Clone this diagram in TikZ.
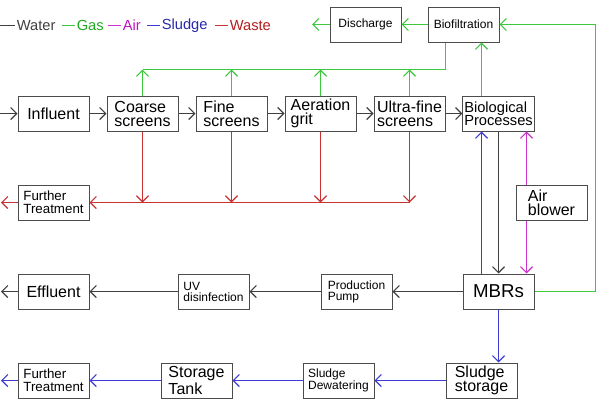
\documentclass[tikz,border=0pt]{standalone}
\usepackage{fontspec}
\setmainfont{Liberation Sans}
\usetikzlibrary{positioning,arrows.meta}

\definecolor{gascol}{RGB}{60,200,60}
\definecolor{gastext}{RGB}{30,170,30}
\definecolor{aircol}{RGB}{204,50,204}
\definecolor{airtext}{RGB}{190,20,190}
\definecolor{sludgecol}{RGB}{60,60,210}
\definecolor{sludgetext}{RGB}{40,40,170}
\definecolor{wastecol}{RGB}{200,50,50}
\definecolor{wastetext}{RGB}{180,30,30}

\tikzset{
  unit/.style={draw=black!70,line width=0.75pt,minimum width=53.25pt,minimum height=26.25pt,inner sep=1pt,align=left},
  big/.style={unit,font=\fontsize{12}{10.5}\selectfont},
  mid/.style={unit,font=\fontsize{10}{9.75}\selectfont},
  small/.style={unit,font=\fontsize{9}{8.25}\selectfont},
  legend/.style={right,inner sep=1pt,font=\fontsize{11}{11}\selectfont},
  flow/.style={line width=0.9pt,-{Straight Barb[length=4.5pt,width=9pt]}},
  water/.style={flow,draw=black!75},
  gas/.style={flow,draw=gascol},
  air/.style={flow,draw=aircol},
  sludge/.style={flow,draw=sludgecol},
  waste/.style={flow,draw=wastecol},
}

\begin{document}
\begin{tikzpicture}[x=0.75pt,y=-0.75pt,node distance=66.75pt,on grid]
  \useasboundingbox (0,0) rectangle (598,404);
  % legend
  \draw[line width=0.75pt,black!75] (0,25.5) -- (15,25.5) node[legend] (lwater) {Water};
  \draw[line width=0.75pt,gascol] (62,25.5) -- (75,25.5) node[legend,gastext] (lgas) {Gas};
  \draw[line width=0.75pt,aircol] (108,25.5) -- (121,25.5) node[legend,airtext] (lair) {Air};
  \draw[line width=0.75pt,sludgecol] (147,25.5) -- (160,25.5) node[legend,sludgetext] (lsludge) {Sludge};
  \draw[line width=0.75pt,wastecol] (215,25.5) -- (228,25.5) node[legend,wastetext] (lwaste) {Waste};

  % pretreatment line
  \node[big] (influent) at (53.5,113.5) {Influent};
  \node[big] (coarse)   [right=of influent] {Coarse\\screens};
  \node[big] (fine)     [right=of coarse]   {Fine\\screens};
  \node[big] (aeration) [right=of fine]     {Aeration\\grit};
  \node[big] (ultra)    [right=of aeration] {Ultra-fine\\screens};
  \node[unit,font=\fontsize{11}{10}\selectfont] (bio) [right=of ultra] {Biological\\Processes};

  \node[small] (biofilt)   at (463.5,24.5) {Biofiltration};
  \node[small] (discharge) [left=73.5pt of biofilt] {Discharge};

  \node[mid] (further1) at (53.5,202.5) {Further\\Treatment};
  \node[big] (blower)   at (551.5,202.5) {Air\\blower};

  % water line
  \node[unit,font=\fontsize{14}{14}\selectfont] (mbr) at (498.5,291.5) {MBRs};
  \node[small] (pump)     at (356.5,291.5) {Production\\Pump};
  \node[small] (uv)       at (213.5,291.5) {UV\\disinfection};
  \node[big]   (effluent) at (53.5,291.5)  {Effluent};

  % sludge line
  \node[big]   (storage)  at (481.5,380.5) {Sludge\\storage};
  \node[small] (dewater)  at (338.5,380.5) {Sludge\\Dewatering};
  \node[big]   (tank)     at (196.5,380.5) {Storage\\Tank};
  \node[mid]   (further2) at (53.5,380.5)  {Further\\Treatment};

  \coordinate (inlet)     at (0,113.5);
  \coordinate (gasbus)    at (0,69.5);
  \coordinate (gasjoin)   at (445.5,69.5);
  \coordinate (gasriser)  at (595.5,24.5);
  \coordinate (gasout)    at (312,24.5);
  \coordinate (wastebus)  at (1,202.5);
  \coordinate (waterout)  at (1,291.5);
  \coordinate (sludgeout) at (1,380.5);
  \coordinate (leftx)     at (481.5,0);
  \coordinate (airx)      at (526.5,0);

  % water
  \draw[water] (inlet) -- (influent);
  \draw[water] (influent) -- (coarse);
  \draw[water] (coarse) -- (fine);
  \draw[water] (fine) -- (aeration);
  \draw[water] (aeration) -- (ultra);
  \draw[water] (ultra) -- (bio);
  \draw[water] (bio.south) -- (mbr.north);
  \draw[water] (mbr) -- (pump);
  \draw[water] (pump) -- (uv);
  \draw[water] (uv) -- (effluent);
  \draw[water] (effluent) -- (waterout);

  % gas
  \foreach \n in {coarse,fine,aeration,ultra}
    \draw[gas] (\n.north) -- (\n.north |- gasbus);
  \draw[gascol,line width=0.9pt] (coarse.north |- gasbus) -- (gasjoin) -- (gasjoin |- biofilt.south);
  \draw[gas] (bio.north -| leftx) -- (biofilt.south -| leftx);
  \draw[gas] (mbr.east) -| (gasriser) -- (biofilt.east);
  \draw[gas] (biofilt) -- (discharge);
  \draw[gas] (discharge) -- (gasout);

  % waste
  \foreach \n in {coarse,fine,aeration,ultra}
    \draw[waste] (\n.south) -- (\n.south |- wastebus);
  \draw[waste] (ultra.south |- wastebus) -- (further1.east);
  \draw[waste] (further1) -- (wastebus);

  % air
  \draw[air] (blower.north -| airx) -- (bio.south -| airx);
  \draw[air] (blower.south -| airx) -- (mbr.north -| airx);

  % sludge
  \draw[sludge] (mbr.north -| leftx) -- (bio.south -| leftx);
  \draw[sludge] (mbr.south) -- (mbr.south |- storage.north);
  \draw[sludge] (storage) -- (dewater);
  \draw[sludge] (dewater) -- (tank);
  \draw[sludge] (tank) -- (further2);
  \draw[sludge] (further2) -- (sludgeout);
\end{tikzpicture}
\end{document}
